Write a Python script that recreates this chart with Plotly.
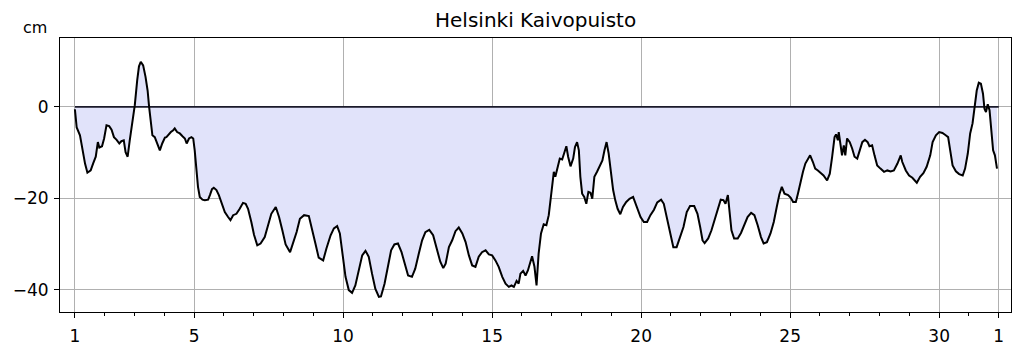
import plotly.graph_objects as go

title = "Helsinki Kaivopuisto"
unit_label = "cm"

days = [
    1.00, 1.06, 1.17, 1.26, 1.34, 1.42, 1.53, 1.61, 1.70, 1.77, 1.82, 1.91, 1.98,
    2.06, 2.15, 2.23, 2.31, 2.40, 2.49, 2.56, 2.64, 2.70, 2.77, 2.84, 2.93,
    3.01, 3.09, 3.15, 3.21, 3.29, 3.37, 3.44, 3.49, 3.55, 3.60, 3.68, 3.76, 3.85, 3.93,
    4.02, 4.07, 4.14, 4.22, 4.30, 4.35, 4.43, 4.52, 4.61, 4.69, 4.75, 4.83, 4.91, 4.97,
    5.02, 5.08, 5.13, 5.19, 5.28, 5.36, 5.47, 5.53, 5.60, 5.66, 5.75, 5.83, 5.92,
    6.03, 6.14, 6.22, 6.31, 6.42, 6.53, 6.64, 6.73, 6.81, 6.92,
    7.01, 7.12, 7.23, 7.37, 7.48, 7.59, 7.74, 7.85, 7.96,
    8.07, 8.22, 8.33, 8.44, 8.55, 8.69, 8.85, 8.96,
    9.07, 9.18, 9.33, 9.44, 9.58, 9.69, 9.80, 9.89, 9.97,
    10.08, 10.19, 10.30, 10.41, 10.53, 10.64, 10.75, 10.86, 10.97,
    11.08, 11.20, 11.27, 11.39, 11.50, 11.61, 11.72, 11.84, 11.96,
    12.07, 12.18, 12.31, 12.42, 12.54, 12.65, 12.76, 12.89,
    13.02, 13.15, 13.26, 13.36, 13.44, 13.55, 13.66, 13.77, 13.88,
    14.00, 14.11, 14.22, 14.33, 14.44, 14.55, 14.66, 14.78, 14.89,
    15.00, 15.11, 15.22, 15.34, 15.45, 15.56, 15.65, 15.73, 15.82, 15.89, 15.95,
    16.04, 16.12, 16.20, 16.26, 16.34, 16.42, 16.49, 16.56, 16.64, 16.73, 16.82, 16.90, 16.96,
    17.01, 17.07, 17.12, 17.20, 17.27, 17.35, 17.42, 17.49, 17.55, 17.63, 17.72, 17.78, 17.85, 17.91, 17.96,
    18.02, 18.09, 18.16, 18.23, 18.30, 18.36, 18.43, 18.52, 18.61, 18.70, 18.77, 18.84, 18.91, 18.99,
    19.06, 19.13, 19.21, 19.30, 19.39, 19.50, 19.61, 19.73, 19.87, 19.98,
    20.09, 20.20, 20.31, 20.43, 20.54, 20.67, 20.76, 20.85, 20.97,
    21.08, 21.19, 21.30, 21.42, 21.53, 21.64, 21.78, 21.89, 21.98,
    22.06, 22.13, 22.25, 22.36, 22.47, 22.58, 22.67, 22.76, 22.83, 22.91, 22.96,
    23.03, 23.12, 23.24, 23.35, 23.46, 23.57, 23.69, 23.80, 23.91,
    24.02, 24.11, 24.22, 24.34, 24.45, 24.55, 24.64, 24.72, 24.81, 24.93,
    25.02, 25.10, 25.19, 25.26, 25.35, 25.43, 25.51, 25.60, 25.67, 25.76, 25.84, 25.93,
    26.04, 26.12, 26.24, 26.33, 26.41, 26.49, 26.54, 26.60, 26.63, 26.69, 26.74, 26.80, 26.85, 26.91,
    27.00, 27.08, 27.16, 27.25, 27.34, 27.42, 27.51, 27.60, 27.66, 27.75, 27.83, 27.92,
    28.03, 28.15, 28.26, 28.37, 28.48, 28.60, 28.71, 28.76, 28.88, 28.99,
    29.10, 29.25, 29.36, 29.47, 29.58, 29.70, 29.78, 29.89,
    30.00, 30.11, 30.22, 30.30, 30.37, 30.45, 30.56, 30.67, 30.79, 30.87, 30.96,
    31.04, 31.12, 31.20, 31.26, 31.33, 31.40, 31.47, 31.52, 31.57, 31.63, 31.69, 31.74, 31.81, 31.87, 31.94,
]

level = [
    -0.5, -4.5, -6.2, -9.5, -12.4, -14.4, -13.9, -12.4, -10.9, -7.7, -8.9, -8.6, -6.9,
    -4.0, -4.2, -5.0, -6.6, -7.2, -8.0, -7.5, -7.3, -9.9, -10.9, -7.3, -3.3,
    0.4, 5.8, 8.9, 9.9, 9.1, 6.6, 3.6, 0.0, -3.6, -6.2, -6.6, -8.0, -9.5, -8.0,
    -6.7, -6.6, -6.0, -5.5, -5.1, -4.7, -5.5, -5.8, -6.4, -6.9, -8.0, -6.9, -6.6, -6.9,
    -9.5, -13.9, -17.5, -19.7, -20.3, -20.4, -20.3, -19.3, -18.0, -17.7, -18.2, -19.3, -21.2,
    -23.0, -24.1, -24.8, -23.7, -23.4, -22.3, -21.0, -21.2, -22.3, -25.2,
    -28.0, -30.3, -29.9, -28.5, -25.9, -23.4, -21.9, -24.1, -27.0,
    -30.1, -31.8, -29.8, -27.4, -24.5, -23.7, -23.9, -26.6,
    -29.9, -33.0, -33.6, -31.0, -28.1, -26.6, -26.1, -27.7, -32.1,
    -37.2, -40.1, -40.7, -39.1, -35.8, -32.5, -31.5, -32.8, -36.5,
    -39.8, -41.6, -41.5, -38.7, -35.0, -31.4, -30.1, -29.9, -31.8,
    -34.5, -36.9, -37.2, -35.4, -32.1, -29.2, -27.4, -26.9,
    -28.1, -31.4, -33.9, -35.3, -34.3, -30.7, -29.2, -27.2, -26.4,
    -27.7, -29.6, -32.5, -34.7, -35.0, -32.8, -31.8, -31.4, -32.3,
    -32.5, -33.6, -35.0, -37.2, -38.7, -39.4, -39.1, -39.4, -38.1, -38.7, -36.5,
    -35.9, -36.9, -35.8, -34.3, -32.7, -35.0, -39.1, -32.1, -27.7, -25.7, -25.9, -23.7, -20.4,
    -16.8, -14.2, -15.3, -13.1, -11.3, -11.5, -10.2, -8.6, -10.9, -13.0, -11.3, -8.8, -7.7, -9.5, -15.3,
    -19.0, -19.7, -21.2, -18.6, -18.8, -20.1, -15.3, -14.2, -13.1, -11.7, -9.5, -7.7, -10.2, -14.6,
    -18.2, -20.4, -22.3, -23.5, -21.9, -20.8, -20.1, -19.7, -22.3, -24.1,
    -25.2, -25.2, -23.7, -22.5, -20.9, -20.3, -21.2, -23.7, -27.7,
    -30.7, -30.7, -28.8, -26.3, -23.0, -21.7, -21.7, -23.4, -26.3,
    -29.2, -29.8, -28.8, -27.0, -24.8, -22.6, -20.3, -20.4, -21.2, -19.3, -22.6,
    -27.0, -28.8, -28.8, -27.6, -25.9, -24.1, -23.2, -23.7, -25.9,
    -28.5, -29.9, -29.6, -27.7, -25.2, -21.9, -19.1, -17.5, -19.0, -19.3,
    -19.9, -20.8, -20.8, -19.0, -16.1, -14.2, -12.4, -11.3, -10.6, -12.0, -13.5, -13.9,
    -14.6, -15.0, -16.1, -14.6, -10.9, -6.6, -6.0, -7.3, -5.5, -8.8, -10.6, -8.4, -10.6, -6.9,
    -7.7, -9.1, -10.9, -11.3, -9.5, -7.7, -7.2, -7.7, -8.6, -8.4, -10.6, -12.8,
    -13.5, -14.2, -13.9, -14.1, -13.9, -12.4, -10.6, -12.0, -13.9, -15.0,
    -15.5, -16.6, -15.3, -14.5, -13.1, -10.6, -7.7, -6.2,
    -5.5, -5.7, -6.2, -6.6, -9.5, -12.8, -14.1, -14.7, -15.0, -13.5, -10.2,
    -5.8, -3.6, 0.4, 3.6, 5.3, 5.1, 2.9, -0.4, -1.1, 0.6, -0.7, -4.0, -9.5, -10.6, -13.5,
]

x_tick_vals = [1, 5, 10, 15, 20, 25, 30, 32]
x_tick_text = ["1", "5", "10", "15", "20", "25", "30", "1"]
x_minor_vals = list(range(1, 33))
y_tick_vals = [0, -20, -40]
y_tick_text = ["0", "\u221220", "\u221240"]
zero_x = [1, 32]
zero_y = [0, 0]

FONT = "DejaVu Sans"

fig = go.Figure()

# fill between zero and the curve
fig.add_trace(go.Scatter(
    x=days + [days[-1], days[0]],
    y=level + [0, 0],
    fill="toself",
    fillcolor="#e1e3fa",
    line=dict(width=0),
    mode="lines",
    hoverinfo="skip",
    showlegend=False,
))

fig.add_trace(go.Scatter(
    x=zero_x, y=zero_y, mode="lines",
    line=dict(color="#1a1a2a", width=1.8),
    showlegend=False,
))

fig.add_trace(go.Scatter(
    x=days, y=level, mode="lines",
    line=dict(color="black", width=2),
    showlegend=False,
))

fig.update_layout(
    width=1023, height=352,
    margin=dict(l=60, r=12, t=38, b=40, autoexpand=False),
    paper_bgcolor="white",
    plot_bgcolor="white",
    font=dict(family=FONT, size=17, color="black"),
    showlegend=False,
)

fig.update_xaxes(
    range=[0.5, 32.41],
    automargin=False,
    tickvals=x_tick_vals, ticktext=x_tick_text,
    ticks="outside", ticklen=5, tickwidth=1, tickcolor="black",
    ticklabelstandoff=4,
    showgrid=True, gridcolor="#b0b0b0", gridwidth=1.3,
    showline=True, linecolor="black", linewidth=1, mirror=True,
    zeroline=False,
    minor=dict(tickvals=x_minor_vals, ticks="outside", ticklen=3, tickcolor="black", showgrid=False),
    tickfont=dict(family=FONT, size=17, color="black"),
)

fig.update_yaxes(
    range=[-44.9, 15.1],
    automargin=False,
    tickvals=y_tick_vals, ticktext=y_tick_text,
    ticks="outside", ticklen=5, tickwidth=1, tickcolor="black",
    ticklabelstandoff=2,
    showgrid=True, gridcolor="#b0b0b0", gridwidth=1.3,
    showline=True, linecolor="black", linewidth=1, mirror=True,
    zeroline=False,
    tickfont=dict(family=FONT, size=17, color="black"),
)

# title
fig.add_annotation(
    text=title, xref="paper", yref="paper",
    x=0.5, y=1.0, xanchor="center", yanchor="bottom", yshift=4,
    showarrow=False, font=dict(family=FONT, size=20, color="black"),
)

# unit label
fig.add_annotation(
    text=unit_label, xref="paper", yref="paper",
    x=-0.026, y=1.0, xanchor="center", yanchor="bottom", yshift=-1,
    showarrow=False, font=dict(family=FONT, size=16, color="black"),
)

fig.write_html("out.html")
